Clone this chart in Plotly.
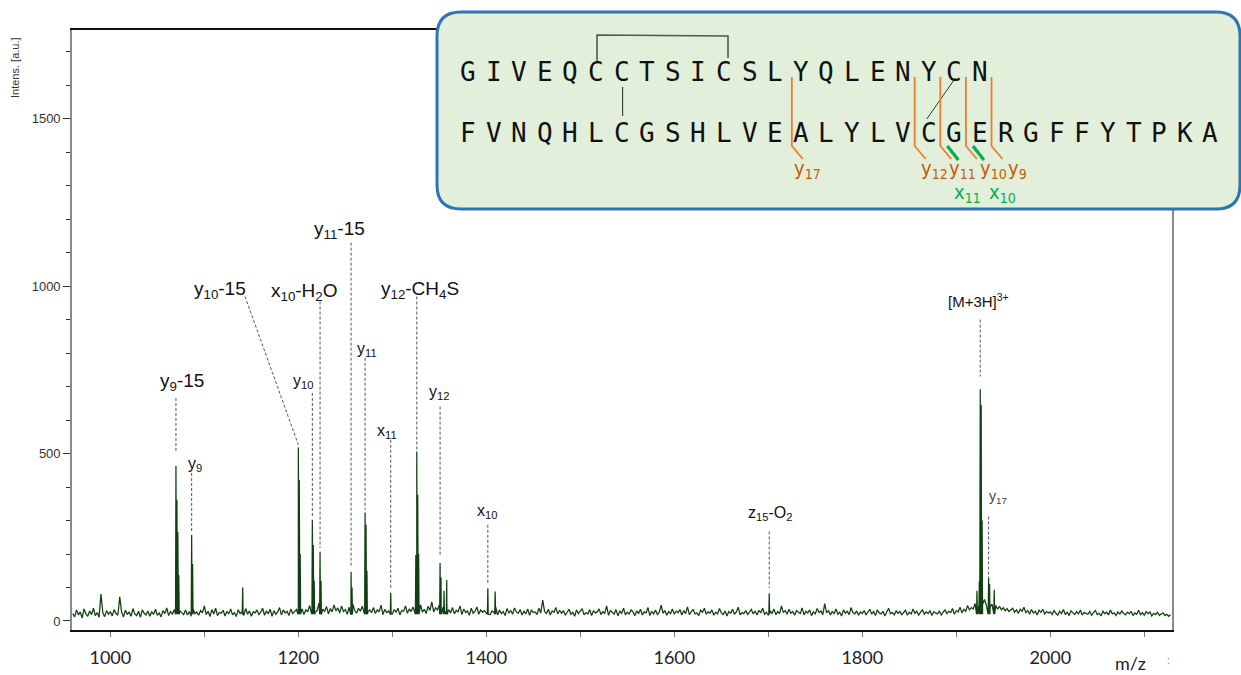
import plotly.graph_objects as go

# ---------------- data ----------------
noise_start = 960
noise_step = 2
noise_int = [
    22, 12, 33, 18, 27, 9, 36, 21, 14, 30, 19, 38, 16, 25, 11, 80, 24, 13, 31, 20,
    28, 15, 34, 22, 17, 72, 26, 12, 32, 19, 27, 14, 37, 21, 16, 29, 11, 33, 23, 18,
    30, 14, 27, 20, 35, 17, 24, 12, 31, 22, 39, 16, 28, 21, 34, 26, 41, 30, 25, 19,
    33, 18, 28, 14, 36, 22, 27, 17, 31, 24, 45, 19, 29, 13, 34, 21, 38, 16, 26, 23,
    32, 15, 29, 21, 36, 18, 25, 13, 34, 22, 28, 17, 37, 20, 30, 14, 27, 24, 33, 19,
    26, 38, 17, 29, 22, 35, 14, 31, 20, 27, 40, 18, 33, 24, 29, 16, 36, 22, 28, 34,
    41, 25, 36, 19, 33, 28, 46, 22, 38, 26, 31, 54, 24, 35, 29, 43, 21, 37, 27, 48,
    30, 39, 24, 45, 28, 34, 20, 41, 26, 50, 31, 23, 38, 29, 44, 22, 36, 27, 33, 25,
    40, 22, 33, 27, 47, 19, 35, 25, 30, 43, 21, 34, 26, 38, 18, 31, 29, 45, 23, 36,
    28, 42, 24, 37, 30, 49, 26, 35, 22, 44, 31, 57, 27, 39, 33, 48, 25, 41, 29, 53,
    34, 24, 40, 21, 32, 27, 45, 19, 36, 25, 30, 17, 38, 23, 29, 42, 20, 33, 26, 31,
    24, 35, 19, 30, 26, 41, 18, 33, 22, 28, 16, 37, 24, 31, 20, 39, 27, 23, 34, 18,
    29, 21, 36, 17, 33, 25, 27, 19, 38, 24, 62, 28, 22, 35, 18, 30, 26, 40, 21, 32,
    23, 31, 17, 28, 35, 20, 26, 14, 33, 22, 29, 37, 18, 25, 21, 34, 16, 30, 24, 27,
    36, 19, 28, 22, 45, 17, 31, 25, 20, 34, 15, 29, 23, 38, 18, 26, 21, 33, 27, 16,
    30, 22, 35, 18, 27, 24, 40, 16, 29, 21, 33, 19, 26, 47, 23, 31, 17, 28, 22, 36,
    20, 29, 25, 34, 18, 31, 22, 42, 19, 27, 35, 21, 24, 16, 32, 26, 38, 20, 28, 23,
    33, 17, 26, 21, 37, 24, 19, 30, 15, 28, 23, 35, 20, 27, 41, 18, 25, 22, 31, 19,
    27, 34, 21, 29, 18, 32, 24, 38, 20, 26, 17, 30, 23, 36, 19, 28, 22, 45, 25, 31,
    20, 35, 23, 28, 17, 31, 26, 22, 39, 18, 29, 24, 33, 16, 27, 21, 37, 25, 30, 19,
    52, 24, 31, 18, 28, 22, 36, 20, 26, 15, 33, 23, 29, 19, 40, 25, 21, 30, 17, 27,
    22, 31, 18, 26, 35, 20, 28, 16, 33, 24, 21, 29, 15, 27, 38, 22, 25, 18, 30, 23,
    28, 19, 24, 32, 17, 26, 21, 36, 23, 29, 18, 25, 34, 20, 27, 22, 31, 16, 28, 24,
    21, 30, 18, 26, 33, 22, 29, 25, 37, 20, 31, 27, 41, 24, 35, 29, 46, 33, 40, 36,
    52, 60, 45, 58, 50, 64, 47, 55, 42, 50, 38, 46, 35, 44, 33, 40, 30, 37, 28, 34,
    38, 26, 33, 22, 36, 28, 41, 25, 31, 20, 34, 24, 29, 18, 32, 26, 35, 21, 28, 24,
    27, 19, 31, 23, 17, 29, 22, 34, 20, 26, 16, 30, 24, 19, 28, 21, 33, 18, 25, 22,
    20, 28, 17, 25, 31, 19, 23, 15, 29, 22, 26, 18, 33, 21, 24, 16, 27, 20, 30, 23,
    18, 26, 21, 29, 16, 24, 20, 32, 19, 25, 17, 28, 22, 27, 15, 23, 19, 26, 17, 21,
    24, 16, 20, 14, 19,
]

peak_mz = [1069.8, 1070.8, 1071.8, 1072.8, 1086.5, 1087.5, 1140.8,
           1200.0, 1201.0, 1202.0, 1214.9, 1215.9, 1216.9, 1223.1, 1224.1,
           1256.1, 1257.1, 1271.0, 1272.0, 1273.0, 1298.3,
           1325.0, 1326.0, 1327.0, 1328.0, 1350.8, 1351.8, 1355.0, 1357.9,
           1401.6, 1409.4, 1701.0,
           1922.0, 1924.5, 1925.5, 1926.5, 1927.5, 1934.4, 1935.4, 1940.4]
peak_int = [463, 362, 266, 137, 257, 170, 100,
            518, 421, 200, 302, 227, 120, 207, 120,
            147, 100, 324, 287, 150, 84,
            197, 506, 377, 200, 173, 130, 90, 122,
            98, 88, 83,
            90, 120, 692, 645, 300, 128, 110, 93]
peak_floor = 20

x_tickvals = [1000, 1100, 1200, 1300, 1400, 1500, 1600, 1700, 1800, 1900, 2000, 2100]
x_ticktext = ["1000", "", "1200", "", "1400", "", "1600", "", "1800", "", "2000", ""]
y_tickvals = [0, 500, 1000, 1500]

# peak annotations: text, label position, leader line (top -> bottom)
ann_text = ["y<sub>9</sub>-15", "y<sub>9</sub>", "y<sub>10</sub>-15", "y<sub>10</sub>",
            "x<sub>10</sub>-H<sub>2</sub>O", "y<sub>11</sub>-15", "y<sub>11</sub>", "x<sub>11</sub>",
            "y<sub>12</sub>-CH<sub>4</sub>S", "y<sub>12</sub>", "x<sub>10</sub>",
            "z<sub>15</sub>-O<sub>2</sub>", "[M+3H]<sup>3+</sup>", "y<sub>17</sub>"]
ann_size = [19, 16, 19, 16, 19, 19, 16, 16, 19, 16, 16, 16, 15, 14]
ann_color = ["#111"] * 13 + ["#444"]
ann_mz = [1076.2, 1090.0, 1116.7, 1205.0, 1207.0, 1243.3, 1272.8, 1294.0,
          1329.5, 1349.7, 1400.5, 1701.8, 1923.4, 1944.7]
ann_int = [714, 466, 989, 714, 984, 1168, 810, 566, 989, 681, 327, 322, 957, 371]
lead_top_mz = [1069.8, 1086.5, 1143.3, 1214.9, 1223.1, 1256.1, 1271.0, 1298.3,
               1326.0, 1350.8, 1401.6, 1701.0, 1925.5, 1934.4]
lead_top_int = [666, 442, 969, 681, 954, 1130, 786, 541, 969, 640, 287, 267, 900, 312]
lead_bot_mz = [1069.8, 1086.5, 1200.0, 1214.9, 1223.1, 1256.1, 1271.0, 1298.3,
               1326.0, 1350.8, 1401.6, 1701.0, 1925.5, 1934.4]
lead_bot_int = [502, 263, 526, 311, 218, 162, 332, 93, 511, 192, 108, 98, 730, 128]

# insulin sequence inset
chain_a = "GIVEQCCTSICSLYQLENYCN"
chain_b = "FVNQHLCGSHLVEALYLVCGERGFFYTPKA"
frag_names = ["y<sub>17</sub>", "y<sub>12</sub>", "y<sub>11</sub>", "y<sub>10</sub>", "y<sub>9</sub>"]
frag_pos = [12.65, 17.45, 18.45, 19.45, 20.45]
frag_label_x = [792, 919, 947, 978, 1006]
xfrag_names = ["x<sub>11</sub>", "x<sub>10</sub>"]
xfrag_pos = [18.45, 19.45]
xfrag_label_x = [952, 987]

# ---------------- geometry helpers (pixels -> paper) ----------------
W, H = 1241, 675
ML, MR, MT, MB = 72, 69, 30, 45
PW, PH = W - ML - MR, H - MT - MB


def px(X):
    return (X - ML) / PW


def py(Y):
    return (H - MB - Y) / PH


def seq_x(i):
    return 468 + 25.6 * i


ROW_A, ROW_B = 72, 133

# ---------------- spectrum ----------------
pts = [(noise_start + noise_step * i, v) for i, v in enumerate(noise_int)]
for mz, h in zip(peak_mz, peak_int):
    pts += [(mz - 0.45, peak_floor), (mz, h), (mz + 0.45, peak_floor)]
pts.sort()
spec_x = [p[0] for p in pts]
spec_y = [p[1] for p in pts]

fig = go.Figure()
fig.add_trace(go.Scatter(x=spec_x, y=spec_y, mode="lines",
                         line=dict(color="#123f12", width=1.25),
                         hoverinfo="skip", showlegend=False))

shapes = []
annotations = []

# leader lines + labels
for i, t in enumerate(ann_text):
    shapes.append(dict(type="line", xref="x", yref="y",
                       x0=lead_top_mz[i], y0=lead_top_int[i],
                       x1=lead_bot_mz[i], y1=lead_bot_int[i],
                       line=dict(color="#555", width=1, dash="3px,2px")))
    annotations.append(dict(x=ann_mz[i], y=ann_int[i], xref="x", yref="y",
                            text=t, showarrow=False, xanchor="center", yanchor="middle",
                            font=dict(family="Liberation Sans, Arial", size=ann_size[i],
                                      color=ann_color[i])))

# inset box (rounded rectangle)
X0, Y0, X1, Y1, R = 437, 12, 1240, 209, 24
path = (f"M {px(X0+R)},{py(Y0)} L {px(X1-R)},{py(Y0)} "
        f"Q {px(X1)},{py(Y0)} {px(X1)},{py(Y0+R)} L {px(X1)},{py(Y1-R)} "
        f"Q {px(X1)},{py(Y1)} {px(X1-R)},{py(Y1)} L {px(X0+R)},{py(Y1)} "
        f"Q {px(X0)},{py(Y1)} {px(X0)},{py(Y1-R)} L {px(X0)},{py(Y0+R)} "
        f"Q {px(X0)},{py(Y0)} {px(X0+R)},{py(Y0)} Z")
shapes.append(dict(type="path", xref="paper", yref="paper", path=path,
                   fillcolor="#e2efda", line=dict(color="#2e75b6", width=3), layer="above"))


def pline(points, color, width):
    d = "M " + " L ".join(f"{px(a)},{py(b)}" for a, b in points)
    return dict(type="path", xref="paper", yref="paper", path=d,
                line=dict(color=color, width=width), layer="above")


# disulfide bonds
shapes.append(pline([(seq_x(5) + 1, 61), (seq_x(5) + 1, 35), (seq_x(10) + 4, 36), (seq_x(10) + 4, 58)], "#555", 1.6))
shapes.append(pline([(seq_x(6) + 1, 87), (seq_x(6) + 1, 116)], "#333", 1.1))
shapes.append(pline([(seq_x(19) + 1, 78), (seq_x(18) - 2, 119)], "#333", 1.0))

# fragment cleavage lines
for p in frag_pos:
    x = seq_x(p)
    shapes.append(pline([(x, 77), (x, 146), (x + 11, 159)], "#ed7d31", 1.8))
for p in xfrag_pos:
    x = seq_x(p)
    shapes.append(pline([(x + 7, 146), (x + 18, 160)], "#00b050", 3.2))

# sequence letters
for i, ch in enumerate(chain_a):
    annotations.append(dict(x=px(seq_x(i)), y=py(ROW_A), xref="paper", yref="paper",
                            text=ch, showarrow=False, xanchor="center", yanchor="middle",
                            font=dict(family="DejaVu Sans Mono", size=26, color="#111")))
for i, ch in enumerate(chain_b):
    annotations.append(dict(x=px(seq_x(i)), y=py(ROW_B), xref="paper", yref="paper",
                            text=ch, showarrow=False, xanchor="center", yanchor="middle",
                            font=dict(family="DejaVu Sans Mono", size=26, color="#111")))

narrow = "Liberation Sans Narrow, DejaVu Sans Condensed, Arial Narrow, sans-serif"
for name, lx in zip(frag_names, frag_label_x):
    annotations.append(dict(x=px(lx), y=py(169), xref="paper", yref="paper",
                            text=name, showarrow=False, xanchor="left", yanchor="middle",
                            font=dict(family=narrow, size=20, color="#c55a11")))
for name, lx in zip(xfrag_names, xfrag_label_x):
    annotations.append(dict(x=px(lx), y=py(193), xref="paper", yref="paper",
                            text=name, showarrow=False, xanchor="left", yanchor="middle",
                            font=dict(family=narrow, size=20, color="#00b050")))

# axis titles
annotations.append(dict(x=px(15), y=py(68), xref="paper", yref="paper", text="Intens. [a.u.]",
                        textangle=-90, showarrow=False, xanchor="center", yanchor="middle",
                        font=dict(family="Liberation Sans, Arial", size=11, color="#333")))
annotations.append(dict(x=px(1130), y=py(663), xref="paper", yref="paper", text="m/z",
                        showarrow=False, xanchor="center", yanchor="middle",
                        font=dict(family="Lato, Open Sans", size=18, color="#222")))
annotations.append(dict(x=px(1168), y=py(660), xref="paper", yref="paper", text=":",
                        showarrow=False, xanchor="center", yanchor="middle",
                        font=dict(family="Liberation Sans", size=10, color="#4a7ebb")))

fig.update_layout(
    width=W, height=H,
    margin=dict(l=ML, r=MR, t=MT, b=MB, pad=0, autoexpand=False),
    paper_bgcolor="white", plot_bgcolor="white",
    showlegend=False,
    shapes=shapes, annotations=annotations,
    xaxis=dict(range=[959.2, 2129.5], tickvals=x_tickvals, ticktext=x_ticktext,
               ticks="outside", ticklen=5, tickwidth=1.3, tickcolor="#777",
               showline=True, linecolor="#111", linewidth=1.5, mirror=True,
               showgrid=False, zeroline=False, ticklabelstandoff=6, automargin=False,
               tickfont=dict(family="Lato, Open Sans", size=18, color="#222")),
    yaxis=dict(range=[-27, 1765], tickvals=y_tickvals,
               ticks="outside", ticklen=7, tickwidth=1, tickcolor="#333",
               minor=dict(dtick=100, tick0=0, ticks="outside", ticklen=4, tickcolor="#333"),
               showline=True, linecolor="#8a8a8a", linewidth=1.6, mirror=True,
               showgrid=False, zeroline=False, automargin=False,
               tickfont=dict(family="Liberation Sans, Arial", size=13, color="#333")),
)

fig.write_html("out.html", config={"displayModeBar": False},
               post_script="document.body.style.margin='0';document.body.style.overflow='hidden';")
